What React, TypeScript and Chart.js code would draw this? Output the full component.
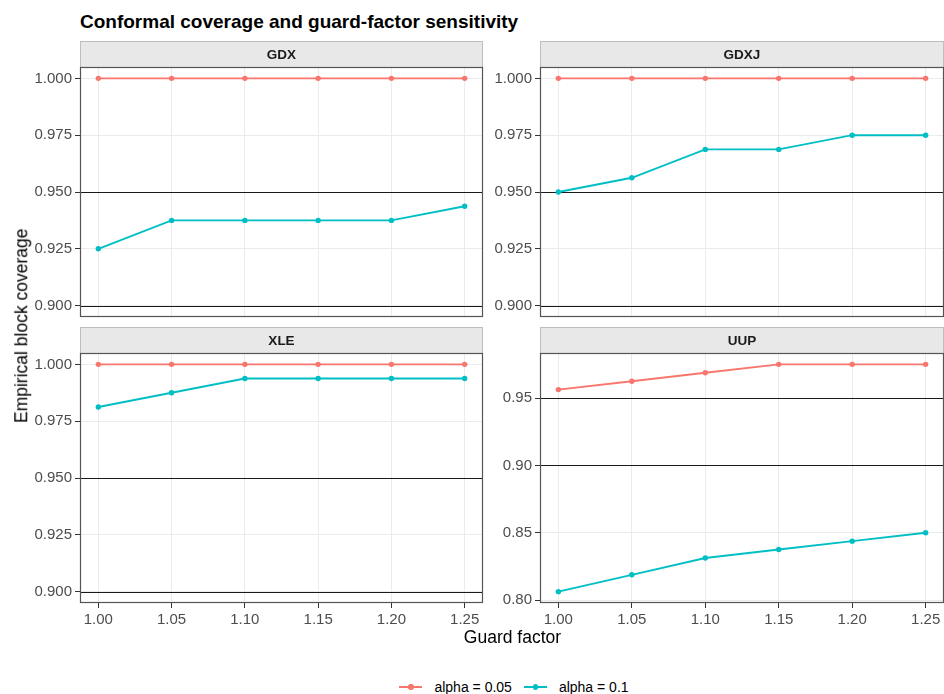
import React, { useEffect, useRef } from "react";
import { Chart, registerables } from "chart.js";

Chart.register(...registerables);

// ---------- data ----------
const guardFactors = [1.0, 1.05, 1.1, 1.15, 1.2, 1.25];
const seriesLabels = ["alpha = 0.05", "alpha = 0.1"];
const seriesColors = ["#F8766D", "#00BFC4"];

const gdxAlpha005 = [1.0, 1.0, 1.0, 1.0, 1.0, 1.0];
const gdxAlpha01 = [0.925, 0.9375, 0.9375, 0.9375, 0.9375, 0.94375];
const gdxjAlpha005 = [1.0, 1.0, 1.0, 1.0, 1.0, 1.0];
const gdxjAlpha01 = [0.95, 0.95625, 0.96875, 0.96875, 0.975, 0.975];
const xleAlpha005 = [1.0, 1.0, 1.0, 1.0, 1.0, 1.0];
const xleAlpha01 = [0.98125, 0.9875, 0.99375, 0.99375, 0.99375, 0.99375];
const uupAlpha005 = [0.95625, 0.9625, 0.96875, 0.975, 0.975, 0.975];
const uupAlpha01 = [0.80625, 0.81875, 0.83125, 0.8375, 0.84375, 0.85];

const targetLevels = [0.9, 0.95];
const xTicks = [1.0, 1.05, 1.1, 1.15, 1.2, 1.25];
const yTicksCommon = [0.9, 0.925, 0.95, 0.975, 1.0];
const yTicksUUP = [0.8, 0.85, 0.9, 0.95];

const titleText = "Conformal coverage and guard-factor sensitivity";
const xTitle = "Guard factor";
const yTitle = "Empirical block coverage";

// ---------- layout ----------
const FONT = "'Liberation Sans', Arial, Helvetica, sans-serif";
const STRIP_H = 26;
const PLOT_H = 250;
const AXIS_W = 56;
const X_AXIS_H = 34;

const facetPlugin = {
  id: "facet",
  beforeDatasetsDraw(chart: any, _args: any, opts: any) {
    const { ctx, chartArea, scales } = chart;
    ctx.save();
    ctx.beginPath();
    ctx.rect(chartArea.left, chartArea.top, chartArea.right - chartArea.left, chartArea.bottom - chartArea.top);
    ctx.clip();
    ctx.strokeStyle = "#1a1a1a";
    ctx.lineWidth = 1;
    for (const v of opts.levels || []) {
      const y = Math.round(scales.y.getPixelForValue(v)) + 0.5;
      ctx.beginPath();
      ctx.moveTo(chartArea.left, y);
      ctx.lineTo(chartArea.right, y);
      ctx.stroke();
    }
    ctx.restore();
  },
  afterDraw(chart: any, _args: any, opts: any) {
    const { ctx, chartArea } = chart;
    const l = Math.round(chartArea.left);
    const r = Math.round(chartArea.right);
    const t = Math.round(chartArea.top);
    const b = Math.round(chartArea.bottom);
    ctx.save();
    // strip
    ctx.fillStyle = "#E8E8E8";
    ctx.fillRect(l, t - STRIP_H, r - l, STRIP_H);
    ctx.strokeStyle = "#BDBDBD";
    ctx.lineWidth = 1;
    ctx.strokeRect(l + 0.5, t - STRIP_H + 0.5, r - l - 1, STRIP_H);
    ctx.fillStyle = "#1A1A1A";
    ctx.font = `bold 13.5px ${FONT}`;
    ctx.textAlign = "center";
    ctx.textBaseline = "middle";
    ctx.fillText(opts.name, (l + r) / 2, t - STRIP_H / 2 + 1);
    // panel border
    ctx.strokeStyle = "#555555";
    ctx.lineWidth = 1.2;
    ctx.strokeRect(l + 0.5, t + 0.5, r - l - 1, b - t - 1);
    ctx.restore();
  },
};

type PanelProps = {
  name: string;
  alpha005: number[];
  alpha01: number[];
  yTicks: number[];
  decimals: number;
  showX: boolean;
  left: number;
  top: number;
  plotW: number;
};

function Panel({ name, alpha005, alpha01, yTicks, decimals, showX, left, top, plotW }: PanelProps) {
  const ref = useRef<HTMLCanvasElement>(null);
  const width = AXIS_W + plotW + 2;
  const height = STRIP_H + PLOT_H + (showX ? X_AXIS_H : 10);

  useEffect(() => {
    const all = [...alpha005, ...alpha01, ...targetLevels];
    const lo = Math.min(...all);
    const hi = Math.max(...all);
    const pad = (hi - lo) * 0.05;
    const xlo = Math.min(...guardFactors);
    const xhi = Math.max(...guardFactors);
    const xpad = (xhi - xlo) * 0.05;
    const series = [alpha005, alpha01];

    const chart = new Chart(ref.current as HTMLCanvasElement, {
      type: "line",
      data: {
        datasets: series.map((vals, k) => ({
          label: seriesLabels[k],
          data: guardFactors.map((g, i) => ({ x: g, y: vals[i] })),
          borderColor: seriesColors[k],
          backgroundColor: seriesColors[k],
          pointBackgroundColor: seriesColors[k],
          pointBorderWidth: 0,
          pointRadius: 2.7,
          borderWidth: 1.9,
          tension: 0,
        })),
      },
      options: {
        responsive: false,
        animation: false,
        devicePixelRatio: 1,
        layout: { padding: { top: STRIP_H, right: 2, bottom: showX ? 0 : 10, left: 0 } },
        plugins: {
          legend: { display: false },
          tooltip: { enabled: false },
          facet: { name, levels: targetLevels },
        } as any,
        scales: {
          x: {
            type: "linear",
            min: xlo - xpad,
            max: xhi + xpad,
            bounds: "data",
            afterBuildTicks: (s: any) => {
              s.ticks = xTicks.map((v) => ({ value: v }));
            },
            afterFit: (s: any) => {
              s.height = showX ? X_AXIS_H : 0;
              s.paddingLeft = 0;
              s.paddingRight = 0;
            },
            grid: { color: "#EBEBEB", lineWidth: 1, drawTicks: showX, tickLength: 5, tickColor: "#333333" },
            border: { display: false },
            ticks: {
              display: showX,
              autoSkip: false,
              maxRotation: 0,
              padding: 3,
              color: "#4D4D4D",
              font: { size: 15, family: FONT },
              callback: (v: any) => Number(v).toFixed(2),
            },
          },
          y: {
            type: "linear",
            min: lo - pad,
            max: hi + pad,
            bounds: "data",
            afterBuildTicks: (s: any) => {
              s.ticks = yTicks.map((v) => ({ value: v }));
            },
            afterFit: (s: any) => {
              s.width = AXIS_W;
              s.paddingTop = 0;
              s.paddingBottom = 0;
            },
            grid: { color: "#EBEBEB", lineWidth: 1, drawTicks: true, tickLength: 5, tickColor: "#333333" },
            border: { display: false },
            ticks: {
              autoSkip: false,
              padding: 3,
              color: "#4D4D4D",
              font: { size: 15, family: FONT },
              callback: (v: any) => Number(v).toFixed(decimals),
            },
          },
        },
      } as any,
      plugins: [facetPlugin as any],
    });
    return () => chart.destroy();
  }, []);

  return (
    <canvas
      ref={ref}
      width={width}
      height={height}
      style={{ position: "absolute", left: left - AXIS_W, top, width, height }}
    />
  );
}

function LegendItem({ color, label, last }: { color: string; label: string; last?: boolean }) {
  return (
    <div style={{ display: "flex", alignItems: "center", marginRight: last ? 0 : 12 }}>
      <div style={{ position: "relative", width: 23, height: 14 }}>
        <div style={{ position: "absolute", left: 0, top: 6, width: 23, height: 2, background: color }} />
        <div
          style={{
            position: "absolute",
            left: 8.8,
            top: 4.3,
            width: 5.4,
            height: 5.4,
            borderRadius: "50%",
            background: color,
          }}
        />
      </div>
      <span style={{ marginLeft: 12, fontSize: 14, lineHeight: 1, color: "#000" }}>{label}</span>
    </div>
  );
}

export default function App() {
  useEffect(() => {
    document.body.style.margin = "0";
  }, []);
  Chart.defaults.font.family = FONT;

  return (
    <div
      style={{
        position: "absolute",
        left: 0,
        top: 0,
        width: 944,
        height: 694,
        overflow: "hidden",
        background: "#ffffff",
        fontFamily: FONT,
      }}
    >
      <div
        style={{
          position: "absolute",
          left: 80,
          top: 12,
          fontSize: 19,
          lineHeight: 1,
          fontWeight: "bold",
          color: "#000",
          whiteSpace: "nowrap",
        }}
      >
        {titleText}
      </div>

      <Panel name="GDX" alpha005={gdxAlpha005} alpha01={gdxAlpha01} yTicks={yTicksCommon} decimals={3} showX={false} left={80} top={41} plotW={405} />
      <Panel name="GDXJ" alpha005={gdxjAlpha005} alpha01={gdxjAlpha01} yTicks={yTicksCommon} decimals={3} showX={false} left={540} top={41} plotW={406} />
      <Panel name="XLE" alpha005={xleAlpha005} alpha01={xleAlpha01} yTicks={yTicksCommon} decimals={3} showX={true} left={80} top={327} plotW={405} />
      <Panel name="UUP" alpha005={uupAlpha005} alpha01={uupAlpha01} yTicks={yTicksUUP} decimals={2} showX={true} left={540} top={327} plotW={406} />

      <div
        style={{
          position: "absolute",
          left: 80,
          width: 865,
          top: 628.5,
          textAlign: "center",
          fontSize: 17.5,
          lineHeight: 1,
          color: "#000",
        }}
      >
        {xTitle}
      </div>

      <div
        style={{
          position: "absolute",
          left: 22 - 200,
          top: 326 - 8.75,
          width: 400,
          height: 17.5,
          textAlign: "center",
          fontSize: 17.5,
          lineHeight: 1,
          color: "#000",
          transform: "rotate(-90deg)",
          transformOrigin: "50% 50%",
          whiteSpace: "nowrap",
        }}
      >
        {yTitle}
      </div>

      <div
        style={{
          position: "absolute",
          left: 0,
          width: 1028,
          top: 680,
          height: 14,
          display: "flex",
          justifyContent: "center",
          alignItems: "center",
        }}
      >
        <LegendItem color={seriesColors[0]} label={seriesLabels[0]} />
        <LegendItem color={seriesColors[1]} label={seriesLabels[1]} last />
      </div>
    </div>
  );
}
